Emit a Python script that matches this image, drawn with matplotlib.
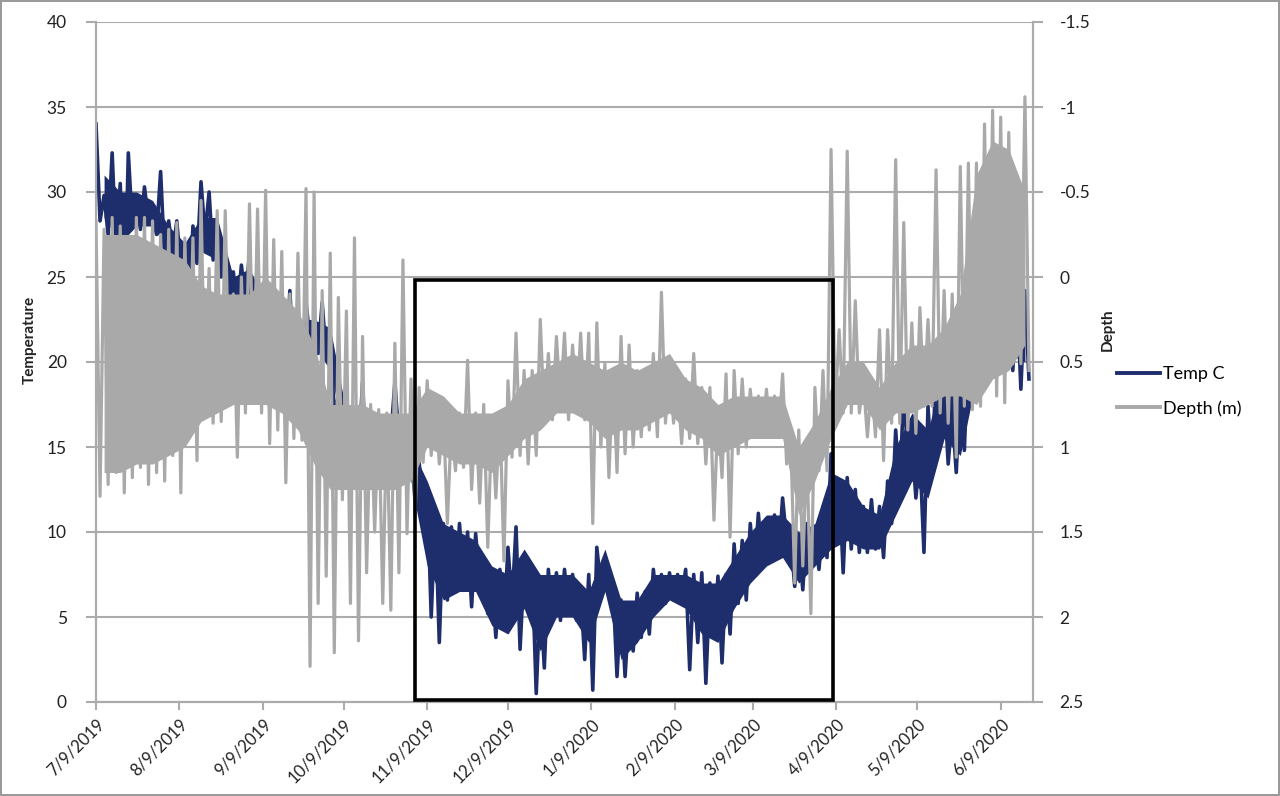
import numpy as np
import pandas as pd
import matplotlib
matplotlib.use("Agg")
import matplotlib.pyplot as plt
import matplotlib.dates as mdates
from matplotlib.patches import Rectangle
from matplotlib.lines import Line2D

plt.rcParams['font.family'] = ['Lato', 'DejaVu Sans']

start_date = '2019-07-09'
span_days = 3
band_days = 6

temp_hi = [34, 29.8, 32.3, 30.5, 32.3, 29.8, 30.3, 28.5, 31.2, 28.3,
           28.3, 26.5, 28, 30.6, 30, 28, 25.5, 25.3, 25.7, 26.4,
           24.5, 23.5, 23, 22.5, 24.2, 22.5, 23.5, 22, 23.5, 21,
           17.9, 17.2, 16.5, 18.8, 14.5, 16.4, 16.6, 18.8, 15.8, 14.6,
           14.1, 12.6, 11.1, 10.5, 10.3, 10.5, 10, 9.9, 8.2, 7.4,
           7.8, 9.1, 10.3, 8, 7.8, 6.4, 7.8, 7.6, 7.8, 7.5,
           6.5, 7.5, 9.1, 8.5, 6.8, 6, 5.5, 6.4, 6.5, 7.8,
           7.5, 7.6, 7.5, 7.8, 7.5, 7.6, 7, 7.4, 7.5, 9.3,
           9.5, 10.5, 11.1, 10.8, 11, 12, 9.7, 9.5, 10.5, 10,
           10.5, 14.6, 13, 13.2, 12.5, 11.5, 11.9, 11.5, 13, 16,
           18.4, 15.4, 14.5, 17.4, 19.7, 18.4, 17, 18.8, 20.9, 21,
           24.6, 22, 24, 21.7, 24.2, 24.2]
temp_lo = [28.3, 27.5, 26.5, 22.5, 28, 27.8, 28.3, 27.5, 26, 26.3,
           25.5, 22.8, 25.8, 27.5, 26, 25, 23.8, 23, 23.5, 20,
           21.5, 21, 20.5, 19.5, 19.5, 19.1, 21.3, 20.5, 20.3, 17.2,
           16.4, 14, 14.5, 13.6, 12.6, 15.6, 15.6, 15.5, 14.6, 11.9,
           11.8, 5, 3.5, 6, 6.5, 7.2, 5.6, 7, 5.2, 3.8,
           4.5, 5.8, 3.1, 5.4, 0.5, 2, 5, 4.8, 5.2, 4.8,
           2.5, 0.7, 6.8, 6.5, 1.5, 1.5, 3, 3.8, 4, 5.4,
           5.8, 6, 6.2, 1.9, 3.5, 1.1, 3.8, 2.3, 4, 5.8,
           6, 7.5, 8, 8.3, 8.5, 9.5, 6.8, 6.6, 8.5, 7.8,
           8.5, 10.5, 7.6, 9, 8.8, 8.8, 9, 8.5, 10.5, 12.5,
           14.4, 12, 8.8, 13.5, 17, 14, 13.5, 14.8, 19.1, 19,
           19.3, 19.5, 21.3, 19.5, 18.4, 19]

depth_top = [-0.33, -0.28, -0.35, -0.30, -0.20, -0.35, -0.35, -0.33, -0.25, -0.28,
             -0.32, -0.23, -0.23, -0.45, -0.05, -0.39, -0.39, 0.10, 0.00, -0.43,
             -0.40, -0.51, -0.22, -0.15, 0.10, -0.14, -0.52, -0.50, 0.08, -0.14,
             0.12, 0.20, -0.23, 0.35, 0.75, 0.78, 0.80, 0.39, -0.10, 0.60,
             0.65, 0.61, 0.70, 0.80, 0.86, 0.80, 0.49, 0.80, 0.75, 0.85,
             0.80, 0.61, 0.33, 0.55, 0.55, 0.25, 0.45, 0.35, 0.33, 0.40,
             0.33, 0.33, 0.27, 0.51, 0.55, 0.35, 0.40, 0.55, 0.55, 0.45,
             0.09, 0.50, 0.61, 0.60, 0.45, 0.65, 0.65, 0.80, 0.57, 0.55,
             0.60, 0.66, 0.70, 0.66, 0.70, 0.57, 0.94, 0.90, 1.00, 0.65,
             0.55, -0.75, 0.31, -0.74, 0.14, 0.62, 0.62, 0.31, 0.31, -0.69,
             -0.32, 0.27, 0.18, 0.25, -0.63, 0.08, 0.10, -0.65, -0.67, -0.67,
             -0.90, -0.98, -0.94, -0.85, -0.53, -1.06]
depth_bottom = [1.29, 1.22, 1.15, 1.27, 1.18, 1.12, 1.22, 1.15, 1.20, 1.05,
                1.27, 0.85, 1.08, 0.75, 0.86, 0.85, 0.70, 1.06, 0.80, 0.70,
                0.80, 0.98, 0.90, 1.21, 0.95, 0.96, 2.29, 1.92, 1.76, 2.21,
                1.31, 1.92, 2.14, 1.74, 1.50, 1.92, 1.96, 1.74, 1.51, 1.41,
                1.09, 1.05, 1.10, 1.45, 1.14, 1.12, 1.25, 1.33, 1.59, 1.30,
                1.67, 1.06, 1.05, 1.10, 1.05, 0.84, 0.84, 0.74, 0.84, 0.80,
                0.84, 1.45, 1.00, 1.18, 1.15, 1.04, 1.00, 0.94, 0.90, 0.94,
                0.86, 0.86, 0.98, 0.95, 0.98, 1.10, 1.43, 1.18, 1.53, 1.04,
                1.00, 0.94, 0.92, 0.94, 0.94, 1.10, 1.80, 1.70, 1.98, 1.14,
                1.14, 0.80, 0.80, 0.80, 0.80, 0.94, 0.94, 1.08, 0.86, 0.86,
                0.90, 0.92, 0.76, 0.76, 0.80, 0.86, 1.06, 0.76, 0.78, 0.76,
                0.57, 0.70, 0.74, 0.51, 0.51, 0.55]

# where most readings sit, per 6-day span
temp_band_hi = [31, 30, 30, 29.5, 28, 27, 28.5, 28.5, 25, 25.5,
                23.5, 22.5, 22.5, 22.5, 22, 17, 16, 16, 16.5, 15,
                13, 10.5, 10, 9.5, 8, 7.5, 9, 7.5, 7.5, 7.5,
                6.5, 9, 6, 6, 7.5, 7.5, 7.5, 7, 7, 8.5,
                10, 11, 11, 10, 10.5, 13.5, 13, 11.5, 11, 15,
                17, 16, 19.5, 18.5, 20, 22, 22, 22]
temp_band_lo = [28.5, 27, 28, 28, 26.5, 25, 26.5, 26, 23.5, 24,
                21.5, 20.5, 20, 21, 19.5, 15, 14.5, 14.5, 15.5, 13,
                8, 6, 6.5, 6.5, 4.5, 4, 5.5, 3, 5, 5,
                3.5, 6.5, 2.5, 3.5, 5, 6, 5.5, 4, 3.5, 5.5,
                7, 8, 8.5, 7, 8, 9, 9.5, 9, 9, 11,
                13, 12, 15.5, 14.5, 19, 20, 20.5, 20]
depth_band_top = [-0.25, -0.25, -0.25, -0.20, -0.15, -0.10, 0.05, 0.10, 0.10, 0.10,
                  0.00, 0.10, 0.20, 0.40, 0.75, 0.75, 0.75, 0.80, 0.80, 0.80,
                  0.65, 0.70, 0.80, 0.80, 0.80, 0.75, 0.60, 0.55, 0.50, 0.45,
                  0.50, 0.55, 0.50, 0.55, 0.50, 0.45, 0.60, 0.65, 0.75, 0.70,
                  0.70, 0.70, 0.70, 1.00, 0.85, 0.65, 0.50, 0.50, 0.65, 0.50,
                  0.40, 0.40, 0.30, 0.10, -0.60, -0.80, -0.75, -0.50]
depth_band_bottom = [1.15, 1.15, 1.10, 1.10, 1.05, 1.00, 0.85, 0.80, 0.75, 0.75,
                     0.75, 0.80, 0.90, 1.10, 1.25, 1.25, 1.25, 1.25, 1.25, 1.20,
                     1.00, 1.05, 1.10, 1.10, 1.15, 1.05, 0.95, 0.90, 0.80, 0.80,
                     0.85, 0.95, 0.90, 0.90, 0.85, 0.80, 0.90, 0.95, 1.05, 1.00,
                     0.95, 0.95, 0.95, 1.40, 1.20, 0.95, 0.75, 0.75, 0.90, 0.80,
                     0.80, 0.75, 0.70, 0.70, 0.75, 0.60, 0.55, 0.40]

temp_ticks = [0, 5, 10, 15, 20, 25, 30, 35, 40]
depth_ticks = [-1.5, -1, -0.5, 0, 0.5, 1, 1.5, 2, 2.5]
box_dates = ('2019-11-04 12:00', '2020-04-07 18:00')
box_temps = (0.1, 24.8)

navy = '#1e2d6b'
gray = '#a9a9a9'
grid_gray = '#ababab'

t0 = pd.Timestamp(start_date)
span_start = np.arange(len(temp_hi)) * span_days
# high at the start of each span, low half way through
t_hi = t0 + pd.to_timedelta(span_start, unit='D')
t_lo = t0 + pd.to_timedelta(span_start + span_days / 2, unit='D')
times = np.column_stack([t_hi.values, t_lo.values]).ravel()
temp = np.column_stack([temp_hi, temp_lo]).ravel()
depth = np.column_stack([depth_top, depth_bottom]).ravel()
t_band = t0 + pd.to_timedelta(np.arange(len(temp_band_hi)) * band_days + band_days / 2, unit='D')

fig = plt.figure(figsize=(12.8, 7.96), dpi=100)
fig.patch.set_edgecolor('#9a9a9a')
fig.patch.set_linewidth(1.5)
ax = fig.add_axes([96 / 1280, 1 - 702 / 796, (1033 - 96) / 1280, 680 / 796])
ax2 = ax.twinx()

ax.fill_between(t_band, temp_band_lo, temp_band_hi, color=navy, lw=0)
ax.plot(times, temp, color=navy, lw=2.6)
ax2.fill_between(t_band, depth_band_top, depth_band_bottom, color=gray, lw=0)
ax2.plot(times, depth, color=gray, lw=2.3)

ax.set_xlim(pd.Timestamp('2019-07-09'), pd.Timestamp('2020-06-21'))
ax.set_ylim(0, 40)
ax.set_yticks(temp_ticks)
ax2.set_ylim(2.5, -1.5)
ax2.set_yticks(depth_ticks)
ax2.set_yticklabels([f'{v:g}' for v in depth_ticks])

ax.yaxis.grid(True, color=grid_gray, lw=1.5)
ax.set_axisbelow(True)

ax.xaxis.set_major_locator(mdates.MonthLocator(bymonthday=9))
ax.xaxis.set_major_formatter(plt.FuncFormatter(
    lambda v, p: '{d.month}/{d.day}/{d.year}'.format(d=mdates.num2date(v))))
ax.tick_params(axis='x', labelrotation=45, length=6, width=1.5, color=grid_gray,
               labelsize=12, pad=4, labelcolor='#222222')
for lab in ax.get_xticklabels():
    lab.set_ha('right')
    lab.set_rotation_mode('anchor')
ax.tick_params(axis='y', length=7, width=1.5, color=grid_gray, labelsize=12.5,
               pad=14, labelcolor='#222222')
ax2.tick_params(axis='y', length=7, width=1.5, color=grid_gray, labelsize=12.5,
                pad=12, labelcolor='#222222')

for a in (ax, ax2):
    a.spines['top'].set_visible(False)
    for s in ('left', 'right', 'bottom'):
        a.spines[s].set_color(grid_gray)
        a.spines[s].set_linewidth(1.5)

# winter window
x0, x1 = mdates.date2num(pd.Timestamp(box_dates[0])), mdates.date2num(pd.Timestamp(box_dates[1]))
ax2.add_patch(Rectangle((x0, box_temps[0]), x1 - x0, box_temps[1] - box_temps[0],
                        transform=ax.transData, fill=False, edgecolor='black',
                        lw=2.6, zorder=5, clip_on=False))

fig.text(30 / 1280, 1 - 340 / 796, 'Temperature', rotation=90, ha='center', va='center',
         fontsize=11, fontweight='bold', color='#222222')
fig.text(1108 / 1280, 1 - 330 / 796, 'Depth', rotation=90, ha='center', va='center',
         fontsize=11, fontweight='bold', color='#222222')

handles = [Line2D([], [], color=navy, lw=2.8), Line2D([], [], color=gray, lw=2.8)]
fig.legend(handles, ['Temp C', 'Depth (m)'], loc='upper left',
           bbox_to_anchor=(1117 / 1280, 1 - 366 / 796), frameon=False, fontsize=13,
           handlelength=2.4, handletextpad=0.15, labelspacing=1.0, borderpad=0,
           borderaxespad=0)

fig.savefig('out.png', dpi=100)
